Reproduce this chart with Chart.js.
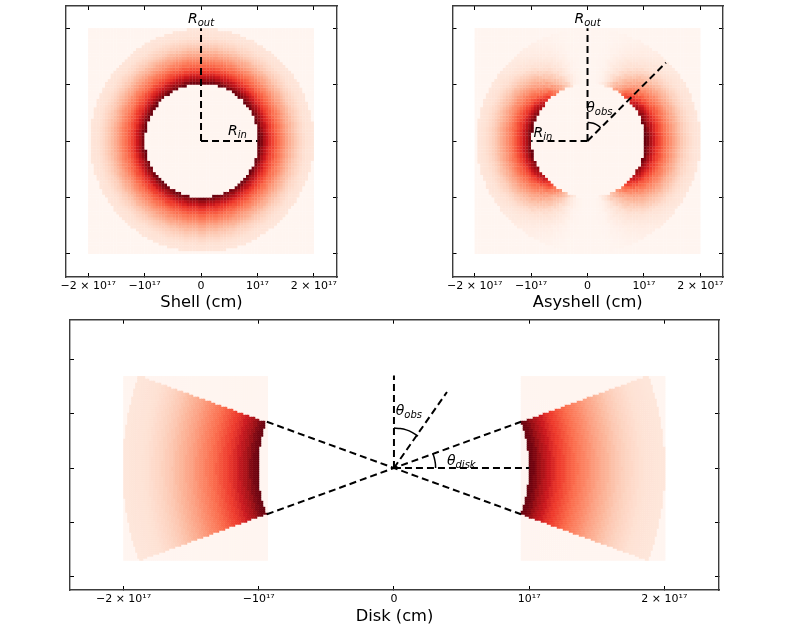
<!DOCTYPE html>
<html><head><meta charset="utf-8">
<script src="https://cdn.jsdelivr.net/npm/chart.js@4"></script>
<style>html,body{margin:0;background:#fff;width:789px;height:631px;overflow:hidden}canvas{position:absolute;filter:blur(.35px)}</style>
</head><body>
<canvas id="shell" width="330" height="316" style="left:30px;top:0"></canvas>
<canvas id="asy" width="330" height="316" style="left:420px;top:0"></canvas>
<canvas id="disk" width="720" height="316" style="left:35px;top:315px"></canvas>
<script>
const E17 = 1e17;
const redsStops = ['#fff5f0','#fee0d2','#fcbba1','#fc9272','#fb6a4a','#ef3b2c','#cb181d','#a50f15','#67000d'];
// intensity against radius, r = 1.000, 1.025 ... 2.000 (x 1e17 cm)
const radialProfile = [1,.98,.95,.9,.85,.8,.75,.7,.66,.63,.6,.57,.54,.51,.48,.455,.43,.405,.38,.355,.33,.31,.29,.27,.25,.23,.21,.195,.18,.165,.155,.145,.135,.125,.115,.11,.105,.1,.095,.09,.085];
// Asyshell weight against polar angle, 0, 2.5 ... 90 degrees
const polarWeight = [0,0,0,.01,.02,.04,.08,.12,.17,.22,.27,.32,.37,.42,.47,.53,.59,.64,.69,.74,.79,.83,.87,.9,.92,.94,.96,.97,.98,.99,1,1,1,1,1,1,1];
const shellTicks = [-2,-1,0,1,2];
const diskYTicks = [-0.8,-0.4,0,0.4,0.8];
const tickNames = {'-2':'\u22122 \u00d7 10\u00b9\u2077','-1':'\u221210\u00b9\u2077','0':'0','1':'10\u00b9\u2077','2':'2 \u00d7 10\u00b9\u2077'};
const shellLines = [[[0,0],[0,2]],[[0,0],[1,0]]];
const asyLines = [[[0,0],[0,2]],[[0,0],[-1,0]],[[0,0],[1.39,1.39]]];
const asyArc = [[0,.33],[.052,.326],[.102,.314],[.15,.294],[.194,.267],[.233,.233]];
const diskLines = [[[-.94,.342],[.94,-.342]],[[-.94,-.342],[.94,.342]],[[0,0],[1,0]],[[0,0],[0,.684]],[[0,0],[.392,.562]]];
const diskArcObs = [[0,.296],[.046,.292],[.091,.282],[.134,.264],[.178,.236]];
const diskArcTheta = [[.308,0],[.307,.027],[.303,.053],[.297,.08],[.289,.105]];
const shellNotes = [[0,2.1,'R','out'],[.647,.106,'R','in']];
const asyNotes = [[0,2.1,'R','out'],[-.79,.076,'R','in'],[.21,.52,'\u03b8','obs']];
const diskNotes = [[.11,.392,'\u03b8','obs'],[.498,.024,'\u03b8','disk']];

function hex(c){return [1,3,5].map(i=>parseInt(c.substr(i,2),16));}
const stopsRGB = redsStops.map(hex);
function reds(v){
  v=Math.max(0,Math.min(1,v))*8; const i=Math.min(7,Math.floor(v)), t=v-i;
  const a=stopsRGB[i], b=stopsRGB[i+1];
  return 'rgb('+a.map((q,k)=>Math.round(q+(b[k]-q)*t)).join(',')+')';
}
function radial(r){
  if(r<1.005||r>1.985) return 0;
  return radialProfile[Math.min(40,Math.round((r-1)/.025))];
}
function polar(x,y){
  const th=Math.atan2(Math.abs(x),Math.abs(y))*180/Math.PI;
  return polarWeight[Math.min(36,Math.round(th/2.5))];
}
function gridCells(x0,x1,y0,y1,dx,dy,valueAt){
  const pts=[], nx=Math.round((x1-x0)/dx), ny=Math.round((y1-y0)/dy);
  for(let i=0;i<nx;i++)for(let j=0;j<ny;j++){
    const x=x0+(i+.5)*dx, y=y0+(j+.5)*dy;
    pts.push({x:x*E17,y:y*E17,c:reds(valueAt(x,y))});
  }
  return pts;
}
const sx=.02, sy=.01;
const shellCells = gridCells(-2,2,-2,2,.05,.05,(x,y)=>radial(Math.hypot(x-sx,y-sy)));
const asyCells = gridCells(-2,2,-2,2,.05,.05,(x,y)=>radial(Math.hypot(x-sx,y-sy))*polar(x-sx,y-sy));
function diskValue(x,y){
  const r=Math.hypot(x,y);
  if(r<1||r>2.005) return 0;
  if(Math.abs(y)>Math.abs(x)*Math.tan(20*Math.PI/180)) return 0;
  return radial(Math.min(1.98,Math.max(1.01,r)));
}
const diskLeft = gridCells(-2,-.94,-.684,.684,.0148,.0148,diskValue);
const diskRight = gridCells(.94,2,-.684,.684,.0148,.0148,diskValue);

const toXY = l=>l.map(p=>({x:p[0]*E17,y:p[1]*E17}));
const dashSet = l=>({type:'scatter',showLine:true,data:toXY(l),borderColor:'#000',borderWidth:2,borderDash:[7,4],pointRadius:0,fill:false});
const arcSet = l=>({type:'scatter',showLine:true,data:toXY(l),borderColor:'#000',borderWidth:1.5,pointRadius:0,fill:false,tension:.3});
const cellSet = (pts,side)=>({type:'scatter',data:pts,pointStyle:'rect',pointRadius:side/Math.SQRT2,pointBorderWidth:0,
  pointBackgroundColor:c=>c.raw.c,borderWidth:0});

const notesPlugin={id:'notes',afterDatasetsDraw(ch,a,o){
  const c=ch.ctx; c.save(); c.fillStyle='#000'; c.textBaseline='alphabetic';
  (o.items||[]).forEach(n=>{
    const mf='italic '+o.main+'px "DejaVu Sans"', sf='italic '+o.sub+'px "DejaVu Sans"';
    c.font=mf; const w1=c.measureText(n[2]).width; c.font=sf; const w2=c.measureText(n[3]).width;
    const X=ch.scales.x.getPixelForValue(n[0]*E17)-(w1+w2)/2, Y=ch.scales.y.getPixelForValue(n[1]*E17);
    c.font=mf; c.textAlign='left'; c.fillText(n[2],X,Y);
    c.font=sf; c.fillText(n[3],X+w1,Y+3);
  });
  c.restore();
}};
function axis(pos,lim,ticks,size,extra){
  return Object.assign({type:'linear',position:pos,min:lim[0]*E17,max:lim[1]*E17,
    border:{display:true,color:'#3c3c3c',width:1.4},
    grid:{display:true,drawOnChartArea:false,drawTicks:true,tickLength:-4,tickColor:'#000',tickWidth:1},
    ticks:{display:false},
    afterBuildTicks:s=>{s.ticks=ticks.map(v=>({value:v*E17}));},
    afterFit:s=>{ if(pos==='left'||pos==='right') s.width=size; else s.height=size; }
  },extra||{});
}
function panel(id,datasets,xLim,yLim,xT,yT,label,pad,notes,xh,titlePad){
  new Chart(document.getElementById(id),{
    type:'scatter',
    data:{datasets},
    plugins:[notesPlugin],
    options:{responsive:false,animation:false,events:[],devicePixelRatio:1,
      layout:{padding:pad},
      plugins:{legend:{display:false},tooltip:{enabled:false},title:{display:false},
        notes:{items:notes,main:14,sub:10}},
      elements:{line:{borderCapStyle:'butt'}},
      scales:{
        x:axis('bottom',xLim,xT,xh,{
          ticks:{display:true,padding:6.5,autoSkip:false,maxRotation:0,minRotation:0,color:'#000',
            font:{family:'"DejaVu Sans"',size:11},includeBounds:false,
            callback:v=>tickNames[String(Math.round(v/E17))]},
          title:{display:true,text:label,color:'#000',font:{family:'"DejaVu Sans"',size:16.3},padding:{top:0,bottom:titlePad}}}),
        xt:axis('top',xLim,xT,0),
        y:axis('left',yLim,yT,0),
        yr:axis('right',yLim,yT,0)
      }
    }
  });
}
panel('shell',[...shellLines.map(dashSet),cellSet(shellCells,3.1)],[-2.394,2.411],[-2.411,2.394],shellTicks,shellTicks,'Shell (cm)',{left:36,right:23,top:6,bottom:0},shellNotes,39,3);
panel('asy',[...asyLines.map(dashSet),arcSet(asyArc),cellSet(asyCells,3.1)],[-2.394,2.402],[-2.411,2.394],shellTicks,shellTicks,'Asyshell (cm)',{left:32.5,right:27,top:6,bottom:0},asyNotes,39,3);
panel('disk',[...diskLines.map(dashSet),arcSet(diskArcObs),arcSet(diskArcTheta),cellSet(diskLeft,2.6),cellSet(diskRight,2.6)],[-2.396,2.404],[-.902,1.097],shellTicks,diskYTicks,'Disk (cm)',{left:35,right:36,top:4.7,bottom:0},diskNotes,41,4);
</script>
</body></html>
